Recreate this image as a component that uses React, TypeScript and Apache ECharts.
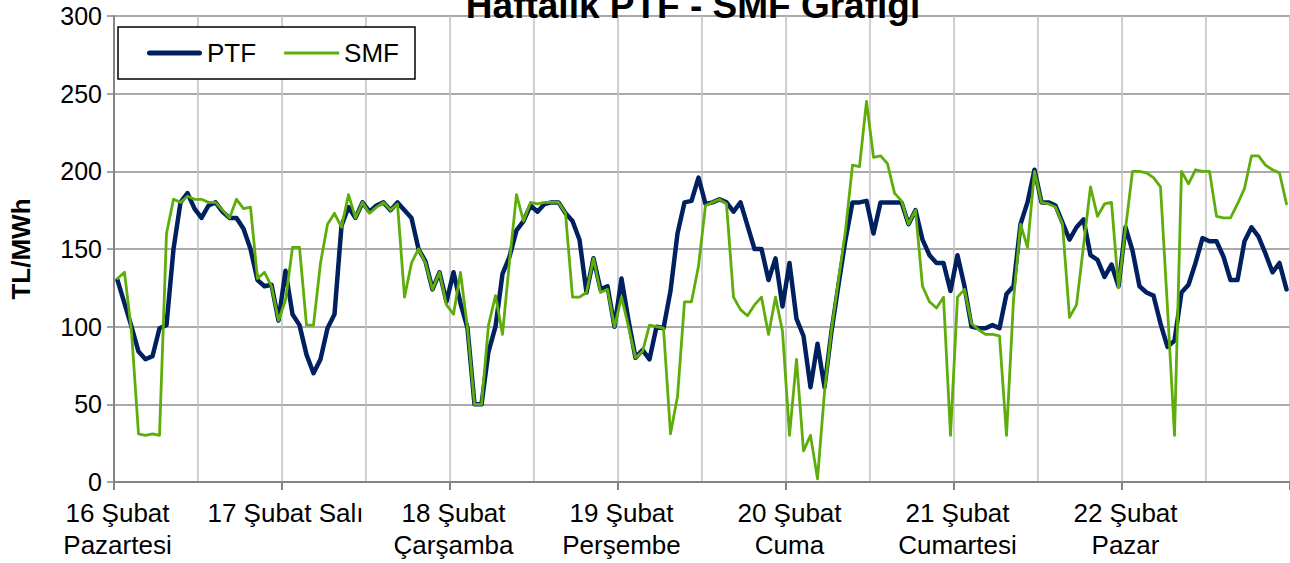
import React, { useEffect, useRef } from "react";
import * as echarts from "echarts";

const dayLabels = [
  "16 Şubat\nPazartesi",
  "17 Şubat Salı",
  "18 Şubat\nÇarşamba",
  "19 Şubat\nPerşembe",
  "20 Şubat\nCuma",
  "21 Şubat\nCumartesi",
  "22 Şubat\nPazar",
];

const yTicks = [0, 50, 100, 150, 200, 250, 300];

const ptf = [
  130, 115, 100, 84, 79, 81, 99, 101, 150, 180, 186, 176, 170, 178, 180, 174, 170, 170, 163, 150, 130, 126, 127, 104,
  136, 108, 101, 82, 70, 79, 99, 108, 165, 177, 170, 180, 174, 178, 180, 175, 180, 175, 170, 150, 142, 124, 135, 116,
  135, 115, 99, 50, 50, 84, 100, 134, 145, 162, 168, 178, 174, 179, 180, 180, 173, 168, 156, 122, 144, 124, 126, 100,
  131, 104, 80, 85, 79, 100, 99, 123, 160, 180, 181, 196, 179, 180, 182, 180, 174, 180, 165, 150, 150, 130, 144, 113,
  141, 105, 94, 61, 89, 61, 97, 127, 156, 180, 180, 181, 160, 180, 180, 180, 180, 166, 175, 156, 146, 141, 141, 123,
  146, 126, 100, 99, 99, 101, 99, 121, 126, 166, 180, 201, 180, 180, 178, 167, 156, 164, 169, 146, 143, 132, 140, 126,
  164, 149, 126, 122, 120, 102, 87, 91, 122, 127, 141, 157, 155, 155, 145, 130, 130, 155, 164, 158, 147, 135, 141, 124,
];

const smf = [
  131, 135, 97, 31, 30, 31, 30, 160, 182, 180, 184, 182, 182, 180, 180, 175, 170, 182, 176, 177, 131, 135, 126, 104,
  117, 151, 151, 101, 101, 141, 166, 173, 164, 185, 170, 180, 173, 177, 180, 175, 179, 119, 141, 150, 141, 124, 135, 114,
  108, 135, 99, 50, 50, 101, 120, 95, 142, 185, 168, 180, 179, 180, 180, 180, 173, 119, 119, 122, 144, 122, 124, 100,
  119, 100, 80, 84, 101, 100, 99, 31, 55, 116, 116, 139, 178, 180, 182, 179, 119, 111, 107, 114, 119, 95, 119, 97,
  30, 79, 20, 30, 2, 58, 98, 130, 162, 204, 203, 245, 209, 210, 205, 186, 181, 166, 175, 126, 116, 112, 119, 30,
  119, 124, 102, 98, 95, 95, 94, 30, 117, 166, 151, 200, 180, 179, 177, 166, 106, 114, 152, 190, 171, 179, 180, 125,
  163, 200, 200, 199, 196, 190, 112, 30, 200, 192, 201, 200, 200, 171, 170, 170, 179, 189, 210, 210, 204, 201, 199, 179,
];

const hoursPerDay = 24;
const categories = ptf.map((_, i) => (i % hoursPerDay === 0 ? dayLabels[i / hoursPerDay] : ""));

const FONT = "Liberation Sans, Arial, sans-serif";
const PTF_COLOR = "#002060";
const SMF_COLOR = "#5EAD0A";

export default function App() {
  const ref = useRef<HTMLDivElement>(null);

  useEffect(() => {
    if (!ref.current) return;
    const chart = echarts.init(ref.current, undefined, { renderer: "svg" });
    chart.setOption({
      animation: false,
      backgroundColor: "#ffffff",
      textStyle: { fontFamily: FONT },
      title: {
        text: "Haftalık PTF - SMF Grafiği",
        left: 688,
        textAlign: "center",
        top: -18,
        textStyle: { fontFamily: FONT, fontSize: 37, fontWeight: "bold", color: "#000" },
      },
      legend: {
        data: [
          { name: "PTF", icon: "path://M2.5,0h50a2.5,2.5 0 0 1 0,5h-50a2.5,2.5 0 0 1 0,-5z", itemStyle: { color: PTF_COLOR } },
          { name: "SMF", icon: "path://M0,0h55v3h-55z", itemStyle: { color: SMF_COLOR } },
        ],
        left: 118,
        top: 27,
        orient: "horizontal",
        borderColor: "#000",
        borderWidth: 1.5,
        backgroundColor: "#fff",
        padding: [13, 16, 13, 29],
        itemWidth: 55,
        itemHeight: 14,
        itemGap: 28,
        symbolKeepAspect: true,
        textStyle: { fontFamily: FONT, fontSize: 26, color: "#000" },
      },
      grid: { left: 109, top: 16, width: 1183, height: 466, containLabel: false },
      xAxis: {
        type: "category",
        data: categories,
        boundaryGap: true,
        axisLine: { show: true, lineStyle: { color: "#858585", width: 2 } },
        axisTick: {
          show: true,
          interval: (i: number) => i % hoursPerDay === 0,
          length: 8,
          lineStyle: { color: "#858585", width: 2 },
        },
        axisLabel: {
          interval: (i: number) => i % hoursPerDay === 0,
          fontFamily: FONT,
          fontSize: 26,
          lineHeight: 32,
          color: "#000",
          margin: 15,
        },
        splitLine: {
          show: true,
          interval: (i: number) => i % 12 === 0,
          lineStyle: { color: "#C0C0C0", width: 1.5 },
        },
      },
      yAxis: {
        type: "value",
        min: yTicks[0],
        max: yTicks[yTicks.length - 1],
        interval: 50,
        name: "TL/MWh",
        nameLocation: "middle",
        nameRotate: 90,
        nameGap: 80,
        nameTextStyle: { fontFamily: FONT, fontSize: 26, fontWeight: "bold", color: "#000" },
        axisLine: { show: true, lineStyle: { color: "#858585", width: 2 } },
        axisTick: { show: true, length: 7, lineStyle: { color: "#858585", width: 1.5 } },
        axisLabel: { fontFamily: FONT, fontSize: 25, color: "#000", margin: 12 },
        splitLine: { show: true, lineStyle: { color: "#8E8E8E", width: 1.5 } },
      },
      series: [
        {
          name: "PTF",
          type: "line",
          data: ptf,
          symbol: "none",
          showSymbol: false,
          lineStyle: { color: PTF_COLOR, width: 4.5, cap: "round", join: "round" },
          itemStyle: { color: PTF_COLOR },
        },
        {
          name: "SMF",
          type: "line",
          data: smf,
          symbol: "none",
          showSymbol: false,
          lineStyle: { color: SMF_COLOR, width: 2.8, cap: "round", join: "round" },
          itemStyle: { color: SMF_COLOR },
        },
      ],
    });
    return () => chart.dispose();
  }, []);

  return (
    <div
      ref={ref}
      style={{ position: "absolute", left: 0, top: 0, width: 1290, height: 563, background: "#fff" }}
    />
  );
}
